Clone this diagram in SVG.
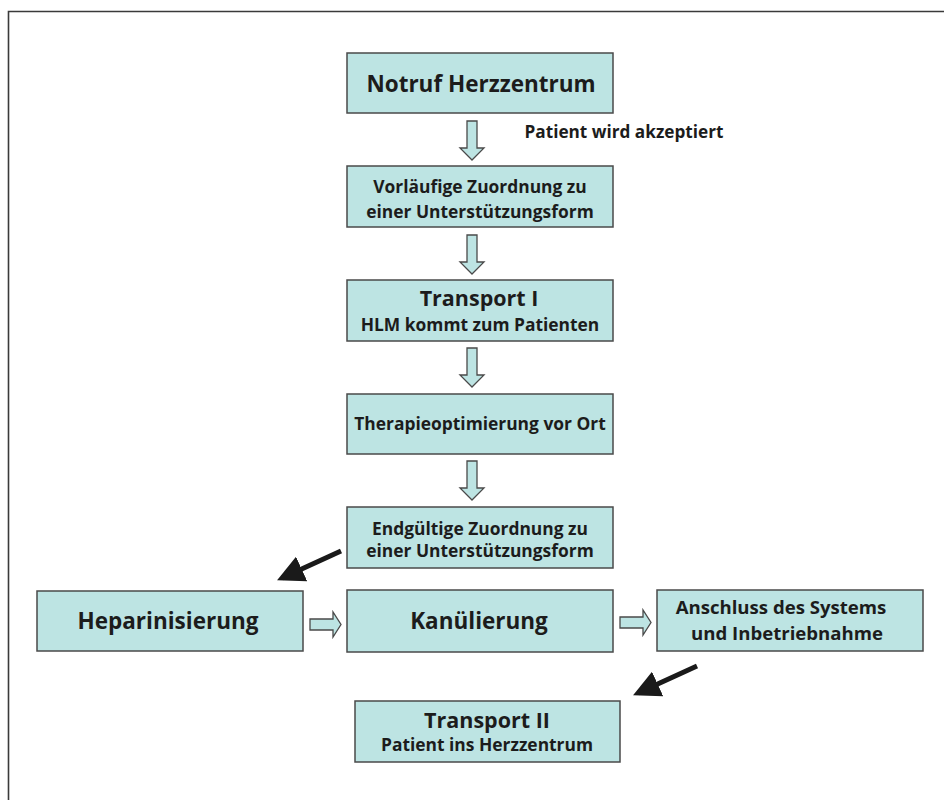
<svg xmlns="http://www.w3.org/2000/svg" width="944" height="800" viewBox="0 0 944 800">
<defs>
<style>
.box{fill:#bde4e3;stroke:#4a4a4a;stroke-width:1.5}
.t{font-family:"Open Sans","Liberation Sans",sans-serif;font-weight:700;fill:#1c1c1c;text-anchor:middle}
.s{font-size:17.4px}
.h{fill:#bde4e3;stroke:#4a4a4a;stroke-width:1.3;stroke-linejoin:miter}
.blk{stroke:#1a1a1a;stroke-width:5;fill:none}
</style>
<marker id="ah" viewBox="0 0 10 10" refX="8" refY="5" markerWidth="5.4" markerHeight="5.4" orient="auto" markerUnits="strokeWidth">
<path d="M0,0 L10,5 L0,10 Z" fill="#1a1a1a"/>
</marker>
</defs>
<rect width="944" height="800" fill="#ffffff"/>
<path d="M8.5,820 V11.5 H960" fill="none" stroke="#3a3a3a" stroke-width="1.6"/>

<g id="connectors">
<path class="h" d="M467,121 H477 V148 H484 L472,160 L460,148 H467 Z"/>
<path class="h" d="M467,235 H477 V262 H484 L472,274 L460,262 H467 Z"/>
<path class="h" d="M467,348 H477 V375 H484 L472,387 L460,375 H467 Z"/>
<path class="h" d="M467,461 H477 V488 H484 L472,500 L460,488 H467 Z"/>
<path class="h" d="M310,619 H333 V612 L341,624.5 L333,637 V630 H310 Z"/>
<path class="h" d="M620,617 H643 V610 L651,622.5 L643,635 V628 H620 Z"/>
<line class="blk" x1="341" y1="551" x2="282" y2="578" marker-end="url(#ah)"/>
<line class="blk" x1="697" y1="666" x2="638" y2="693" marker-end="url(#ah)"/>
</g>

<g id="notruf">
<rect class="box" x="347" y="53" width="266" height="60"/>
<text class="t" x="481" y="92" font-size="22.5">Notruf Herzzentrum</text>
</g>
<g id="label-akzeptiert">
<text class="t" x="624" y="138" font-size="17.2">Patient wird akzeptiert</text>
</g>
<g id="vorlaeufig">
<rect class="box" x="347" y="166" width="266" height="61"/>
<text class="t s" x="480" y="193">Vorläufige Zuordnung zu</text>
<text class="t s" x="480" y="218">einer Unterstützungsform</text>
</g>
<g id="transport1">
<rect class="box" x="347" y="280" width="266" height="61"/>
<text class="t" x="479" y="306" font-size="21.5">Transport I</text>
<text class="t s" x="480" y="331">HLM kommt zum Patienten</text>
</g>
<g id="therapie">
<rect class="box" x="347" y="394" width="266" height="60"/>
<text class="t s" x="480" y="430">Therapieoptimierung vor Ort</text>
</g>
<g id="endgueltig">
<rect class="box" x="347" y="507" width="266" height="61"/>
<text class="t s" x="480" y="535">Endgültige Zuordnung zu</text>
<text class="t s" x="480" y="557">einer Unterstützungsform</text>
</g>
<g id="heparin">
<rect class="box" x="37" y="591" width="266" height="60"/>
<text class="t" x="168" y="629" font-size="22.5">Heparinisierung</text>
</g>
<g id="kanuel">
<rect class="box" x="347" y="590" width="266" height="62"/>
<text class="t" x="479" y="629" font-size="22.5">Kanülierung</text>
</g>
<g id="anschluss">
<rect class="box" x="657" y="590" width="266" height="61"/>
<text class="t" x="781" y="614" font-size="18.6">Anschluss des Systems</text>
<text class="t" x="787" y="640" font-size="18.6">und Inbetriebnahme</text>
</g>
<g id="transport2">
<rect class="box" x="355" y="701" width="265" height="61"/>
<text class="t" x="487" y="728" font-size="21.5">Transport II</text>
<text class="t s" x="487" y="751">Patient ins Herzzentrum</text>
</g>
</svg>
